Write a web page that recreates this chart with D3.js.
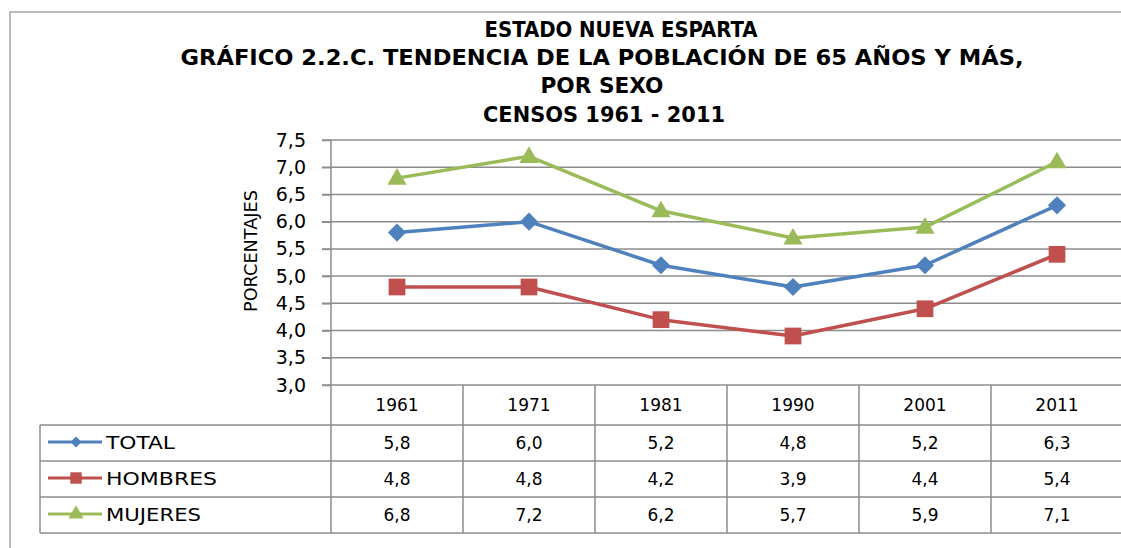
<!DOCTYPE html>
<html><head><meta charset="utf-8">
<script src="https://cdn.jsdelivr.net/npm/d3@7/dist/d3.min.js"></script>
<style>body{margin:0;background:#fff;overflow:hidden}</style>
</head><body>
<svg id="c" width="1121" height="548"></svg>
<script>
// ---- data ----
const years = ["1961", "1971", "1981", "1990", "2001", "2011"];
const total = [5.8, 6.0, 5.2, 4.8, 5.2, 6.3];
const hombres = [4.8, 4.8, 4.2, 3.9, 4.4, 5.4];
const mujeres = [6.8, 7.2, 6.2, 5.7, 5.9, 7.1];
const seriesNames = ["TOTAL", "HOMBRES", "MUJERES"];
const yTicks = [3.0, 3.5, 4.0, 4.5, 5.0, 5.5, 6.0, 6.5, 7.0, 7.5];
const titleLines = [
  "ESTADO NUEVA ESPARTA",
  "GRÁFICO 2.2.C.  TENDENCIA DE LA POBLACIÓN DE 65 AÑOS Y MÁS,",
  "POR SEXO",
  "CENSOS 1961 - 2011"
];
const yLabel = "PORCENTAJES";

// ---- style ----
const colors = ["#4F81BD", "#C0504D", "#9BBB59"];
const symbols = [d3.symbolSquare, d3.symbolSquare, d3.symbolTriangle];
const gridColor = "#8c8c8c";
const seriesData = [total, hombres, mujeres];

const svg = d3.select("#c");

// outer border
svg.append("path").attr("d", "M10,548 V12 H1121")
  .attr("fill", "none").attr("stroke", "#a6a6a6").attr("stroke-width", 1.5);

// title
const titleX = [621, 602, 602, 604];
const titleY = [37, 65, 93, 122];
const titleW = [273, 843, 123, 242];
svg.append("g").selectAll("text").data(titleLines).join("text")
  .attr("x", (d, i) => titleX[i]).attr("y", (d, i) => titleY[i])
  .attr("text-anchor", "middle")
  .attr("textLength", (d, i) => titleW[i]).attr("lengthAdjust", "spacingAndGlyphs")
  .style("font-family", "'Liberation Sans Narrow','DejaVu Sans Condensed','Liberation Sans',sans-serif")
  .style("font-weight", "bold").style("font-size", "22px").attr("fill", "#000")
  .text(d => d);

// scales
const x = d3.scaleBand().domain(years).range([331, 1123]);
const y = d3.scaleLinear().domain([3.0, 7.5]).range([385, 140]);
const fmt = v => d3.format(".1f")(v).replace(".", ",");

// gridlines
svg.append("g").selectAll("line").data(yTicks).join("line")
  .attr("x1", 322).attr("x2", 1121)
  .attr("y1", d => y(d)).attr("y2", d => y(d))
  .attr("stroke", gridColor).attr("stroke-width", 1.5);

// y axis
const yAxis = svg.append("g").attr("transform", "translate(331,0)")
  .call(d3.axisLeft(y).tickValues(yTicks).tickFormat(fmt).tickSize(9).tickPadding(16));
yAxis.select(".domain").remove();
yAxis.selectAll(".tick line").attr("stroke", gridColor).attr("stroke-width", 1.5);
yAxis.selectAll(".tick text")
  .style("font-family", "'DejaVu Sans',sans-serif").style("font-size", "19px").attr("fill", "#000");

// y axis line (extends through table)
svg.append("line").attr("x1", 331).attr("x2", 331).attr("y1", 140).attr("y2", 533)
  .attr("stroke", gridColor).attr("stroke-width", 1.5);

// y label
svg.append("text").attr("transform", "translate(257,251) rotate(-90)")
  .attr("text-anchor", "middle")
  .attr("textLength", 122).attr("lengthAdjust", "spacingAndGlyphs")
  .style("font-family", "'DejaVu Sans','Liberation Sans',sans-serif").style("font-size", "18px")
  .text(yLabel);

// ---- data table ----
const rowTop = [425, 461, 497];
const tbl = svg.append("g");
tbl.selectAll("line.h").data([425, 461, 497, 533]).join("line")
  .attr("x1", 40).attr("x2", 1121).attr("y1", d => d).attr("y2", d => d)
  .attr("stroke", gridColor).attr("stroke-width", 1.5);
tbl.append("line").attr("x1", 40).attr("x2", 40).attr("y1", 425).attr("y2", 533)
  .attr("stroke", gridColor).attr("stroke-width", 1.5);
tbl.selectAll("line.v").data(years.slice(1)).join("line")
  .attr("x1", d => x(d)).attr("x2", d => x(d)).attr("y1", 385).attr("y2", 533)
  .attr("stroke", gridColor).attr("stroke-width", 1.5);
tbl.selectAll("text.yr").data(years).join("text")
  .attr("x", d => x(d) + x.bandwidth() / 2).attr("y", 411)
  .attr("text-anchor", "middle")
  .style("font-family", "'DejaVu Sans',sans-serif").style("font-size", "17px")
  .text(d => d);
seriesData.forEach((vals, si) => {
  tbl.append("g").selectAll("text").data(vals).join("text")
    .attr("x", (d, i) => x(years[i]) + x.bandwidth() / 2)
    .attr("y", rowTop[si] + 24)
    .attr("text-anchor", "middle")
    .style("font-family", "'DejaVu Sans',sans-serif").style("font-size", "17px")
    .text(d => fmt(d));
});
const legW = [69, 111, 95];
seriesNames.forEach((name, si) => {
  const cy = rowTop[si] + 17;
  const g = tbl.append("g");
  g.append("line").attr("x1", 48).attr("x2", 102).attr("y1", cy).attr("y2", cy)
    .attr("stroke", colors[si]).attr("stroke-width", 3);
  const sz = [60, 130, 100][si];
  g.append("path").attr("d", d3.symbol(symbols[si], sz)())
    .attr("transform", `translate(76,${cy})` + (si === 0 ? " rotate(45)" : ""))
    .attr("fill", colors[si]);
  g.append("text").attr("x", 106).attr("y", cy + 7)
    .attr("textLength", legW[si]).attr("lengthAdjust", "spacingAndGlyphs")
    .style("font-family", "'DejaVu Sans',sans-serif").style("font-size", "17px")
    .text(name);
});

// ---- lines and markers ----
const line = d3.line().x((d, i) => x(years[i]) + x.bandwidth() / 2).y(d => y(d));
const markSize = [165, 280, 160];
seriesData.forEach((vals, si) => {
  svg.append("path").datum(vals).attr("d", line)
    .attr("fill", "none").attr("stroke", colors[si]).attr("stroke-width", 3.5)
    .attr("stroke-linejoin", "round");
  svg.append("g").selectAll("path").data(vals).join("path")
    .attr("d", d3.symbol(symbols[si], markSize[si])())
    .attr("transform", (d, i) => `translate(${x(years[i]) + x.bandwidth() / 2},${y(d) + (si === 2 ? 1 : 0)})` + (si === 0 ? " rotate(45)" : ""))
    .attr("fill", colors[si]);
});
</script>
</body></html>
